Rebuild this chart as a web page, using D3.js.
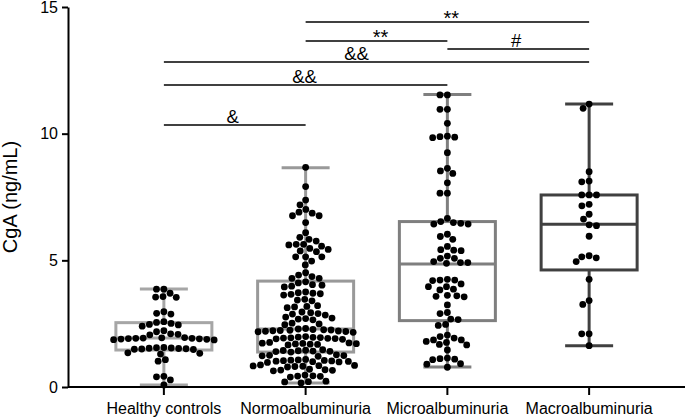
<!DOCTYPE html>
<html>
<head>
<meta charset="utf-8">
<script src="https://cdn.jsdelivr.net/npm/d3@7"></script>
<style>
  body { margin: 0; background: #fff; }
  text { font-family: Arial, "Liberation Sans", sans-serif; }
</style>
</head>
<body>
<div id="chart"></div>
<script>
const groups = ["Healthy controls", "Normoalbuminuria", "Microalbuminuria", "Macroalbuminuria"];
const boxColors = ["#a6a6a6", "#999999", "#7f7f7f", "#404040"];

// values
const healthy = [3.86, 3.86, 3.70, 3.57, 3.55, 3.54, 2.97, 2.91, 2.88,
  2.58, 2.55, 2.51, 2.47, 2.45, 2.40, 2.22, 2.18, 2.10, 2.08, 2.06,
  1.95, 1.94, 1.93, 1.92, 1.92, 1.91, 1.90, 1.89, 1.88, 1.87, 1.86,
  1.56, 1.55, 1.54, 1.53, 1.52, 1.51, 1.50, 1.49, 1.48,
  1.35, 1.33, 1.30, 1.08, 1.02, 0.42, 0.40, 0.28, 0.08];

const normo = [8.67, 7.91, 7.38, 7.19, 7.01, 6.90, 6.86, 6.76, 6.76, 6.49, 6.09,
  5.91, 5.83, 5.76, 5.63, 5.63, 5.61, 5.56, 5.47, 5.43, 5.37, 5.34, 5.14, 5.14, 5.14,
  4.97, 4.82, 4.51, 4.42, 4.36, 4.29, 4.29,
  4.15, 4.11, 4.04, 4.02, 3.98, 3.95,
  3.75, 3.72, 3.70, 3.68, 3.66, 3.63,
  3.46, 3.43, 3.40, 3.21, 3.18, 3.16, 3.13,
  2.96, 2.93, 2.90, 2.88, 2.84, 2.76, 2.72, 2.70, 2.68, 2.65,
  2.52, 2.49, 2.46,
  2.31, 2.29, 2.27, 2.26, 2.25, 2.24, 2.23, 2.22, 2.21, 2.20, 2.19, 2.18, 2.16,
  1.99, 1.97, 1.96, 1.95, 1.94, 1.93, 1.92, 1.91, 1.90, 1.88,
  1.76, 1.74, 1.73, 1.72, 1.71, 1.70, 1.69, 1.68, 1.66,
  1.47, 1.45, 1.44, 1.43, 1.42, 1.41, 1.40, 1.38,
  1.27, 1.25, 1.24, 1.23, 1.21,
  1.09, 1.07, 1.06, 1.05, 1.04, 1.03, 1.02, 1.01, 1.00, 0.99, 0.97,
  0.87, 0.85, 0.84, 0.83, 0.82, 0.81, 0.79,
  0.70, 0.68, 0.67, 0.66, 0.64,
  0.47, 0.44, 0.43, 0.42, 0.39,
  0.23, 0.21, 0.20, 0.16];

const micro = [11.53, 11.53, 10.96, 10.96, 10.41, 9.90, 9.88, 9.86, 9.84, 9.25,
  8.63, 8.53, 8.43, 8.06, 7.65, 7.65,
  6.66, 6.53, 6.49, 6.46, 6.43, 6.43, 6.03, 5.94, 5.83, 5.55, 5.42, 5.40, 5.38,
  5.17, 5.08, 5.08, 4.95, 4.91, 4.91, 4.88,
  4.25, 4.22, 4.22, 4.20, 4.07, 3.96, 3.96, 3.86, 3.83,
  3.62, 3.60, 3.58, 3.56, 3.24, 2.94, 2.90, 2.68, 2.66, 2.47, 2.43,
  2.05, 1.99, 1.93, 1.86, 1.86, 1.80, 1.76, 1.68, 1.66,
  1.46, 1.14, 1.12, 1.10, 1.08, 0.92, 0.90, 0.78];

const macro = [11.17, 11.0, 8.50, 8.13, 8.10, 7.58, 7.58, 7.58, 7.21, 7.15, 6.82,
  6.63, 6.40, 6.37, 5.95, 5.18, 5.14, 5.10, 4.95, 4.25, 3.41, 3.26, 2.10, 2.10, 1.63];

const whiskerLow = [0.08, 0.16, 0.79, 1.63];
const q1 = [1.46, 1.38, 2.62, 4.62];
const medians = [1.93, 2.29, 4.86, 6.42];
const q3 = [2.54, 4.18, 6.53, 7.58];
const whiskerHigh = [3.87, 8.65, 11.55, 11.17];

// significance bars: from group, to group, level, label
const sigFrom = [0, 0, 0, 1, 2, 1];
const sigTo = [1, 2, 3, 2, 3, 3];
const sigLevel = [10.34, 11.92, 12.83, 13.66, 13.34, 14.41];
const sigLabel = ["&", "&&", "&&", "**", "#", "**"];

const yTicks = [0, 5, 10, 15];

const W = 685, H = 419;
const svg = d3.select("#chart").append("svg")
  .attr("width", W).attr("height", H);

const x = d3.scaleBand().domain(groups).range([93, 660]).padding(0);
const y = d3.scaleLinear().domain([0, 15]).range([387, 7]);
const cx = i => x(groups[i]) + x.bandwidth() / 2;

const boxW = 96, capW = 48, r = 3.4, gap = 7.4;

// boxes
groups.forEach((g, i) => {
  const c = cx(i);
  const gb = svg.append("g")
    .attr("stroke", boxColors[i])
    .attr("stroke-width", 3)
    .attr("fill", "none");
  gb.append("line").attr("x1", c).attr("x2", c)
    .attr("y1", y(whiskerHigh[i])).attr("y2", y(q3[i]));
  gb.append("line").attr("x1", c).attr("x2", c)
    .attr("y1", y(q1[i])).attr("y2", y(whiskerLow[i]));
  gb.append("line").attr("x1", c - capW / 2).attr("x2", c + capW / 2)
    .attr("y1", y(whiskerHigh[i])).attr("y2", y(whiskerHigh[i]));
  gb.append("line").attr("x1", c - capW / 2).attr("x2", c + capW / 2)
    .attr("y1", y(whiskerLow[i])).attr("y2", y(whiskerLow[i]));
  gb.append("rect")
    .attr("x", c - boxW / 2).attr("width", boxW)
    .attr("y", y(q3[i])).attr("height", y(q1[i]) - y(q3[i]));
  gb.append("line").attr("x1", c - boxW / 2).attr("x2", c + boxW / 2)
    .attr("y1", y(medians[i])).attr("y2", y(medians[i]));
});

// simple beeswarm: place each dot at the free spot nearest the centre
function swarm(vals) {
  const pts = vals.map(v => ({ v, py: y(v) })).sort((a, b) => a.py - b.py);
  const placed = [];
  pts.forEach(p => {
    const near = placed.filter(q => Math.abs(q.py - p.py) < gap);
    const cand = [0];
    near.forEach(q => {
      const dx = Math.sqrt(gap * gap - (q.py - p.py) ** 2);
      cand.push(q.dx + dx, q.dx - dx);
    });
    cand.sort((a, b) => Math.abs(a) - Math.abs(b) || a - b);
    p.dx = cand.find(c => near.every(q =>
      (q.dx - c) ** 2 + (q.py - p.py) ** 2 >= gap * gap - 0.01));
    placed.push(p);
  });
  return pts;
}

[healthy, normo, micro, macro].forEach((vals, i) => {
  svg.append("g").selectAll("circle")
    .data(swarm(vals))
    .join("circle")
    .attr("cx", d => cx(i) + d.dx)
    .attr("cy", d => y(d.v))
    .attr("r", r)
    .attr("fill", "#000");
});

// axes
const yAxis = svg.append("g")
  .attr("transform", "translate(68,0)")
  .call(d3.axisLeft(y).tickValues(yTicks).tickSize(6).tickSizeOuter(0).tickPadding(4));
yAxis.selectAll("text").attr("font-size", 16).attr("fill", "#000");

const xAxis = svg.append("g")
  .attr("transform", "translate(0,387)")
  .call(d3.axisBottom(x).tickSize(8).tickSizeOuter(0).tickPadding(8));
xAxis.select(".domain").attr("d", "M68,0H685");
xAxis.selectAll("text").attr("font-size", 16).attr("fill", "#000");
svg.selectAll(".domain, .tick line").attr("stroke", "#000").attr("stroke-width", 2);

svg.append("text")
  .attr("transform", `translate(17,${(y(0) + y(15)) / 2}) rotate(-90)`)
  .attr("text-anchor", "middle")
  .attr("font-size", 20)
  .text("CgA (ng/mL)");

// significance bars (label nudges so neighbouring labels don't collide)
const labelDx = [-2, -1, -20, 4, -2, 4];
sigLabel.forEach((lab, k) => {
  const x1 = cx(sigFrom[k]), x2 = cx(sigTo[k]), ly = y(sigLevel[k]);
  svg.append("line")
    .attr("x1", x1).attr("x2", x2).attr("y1", ly).attr("y2", ly)
    .attr("stroke", "#000").attr("stroke-width", 1.5);
  const star = lab === "**";
  svg.append("text")
    .attr("x", (x1 + x2) / 2 + labelDx[k])
    .attr("y", star ? ly + 3 : ly - 2)
    .attr("text-anchor", "middle")
    .attr("font-size", star ? 20 : 18.5)
    .text(lab);
});
</script>
</body>
</html>
